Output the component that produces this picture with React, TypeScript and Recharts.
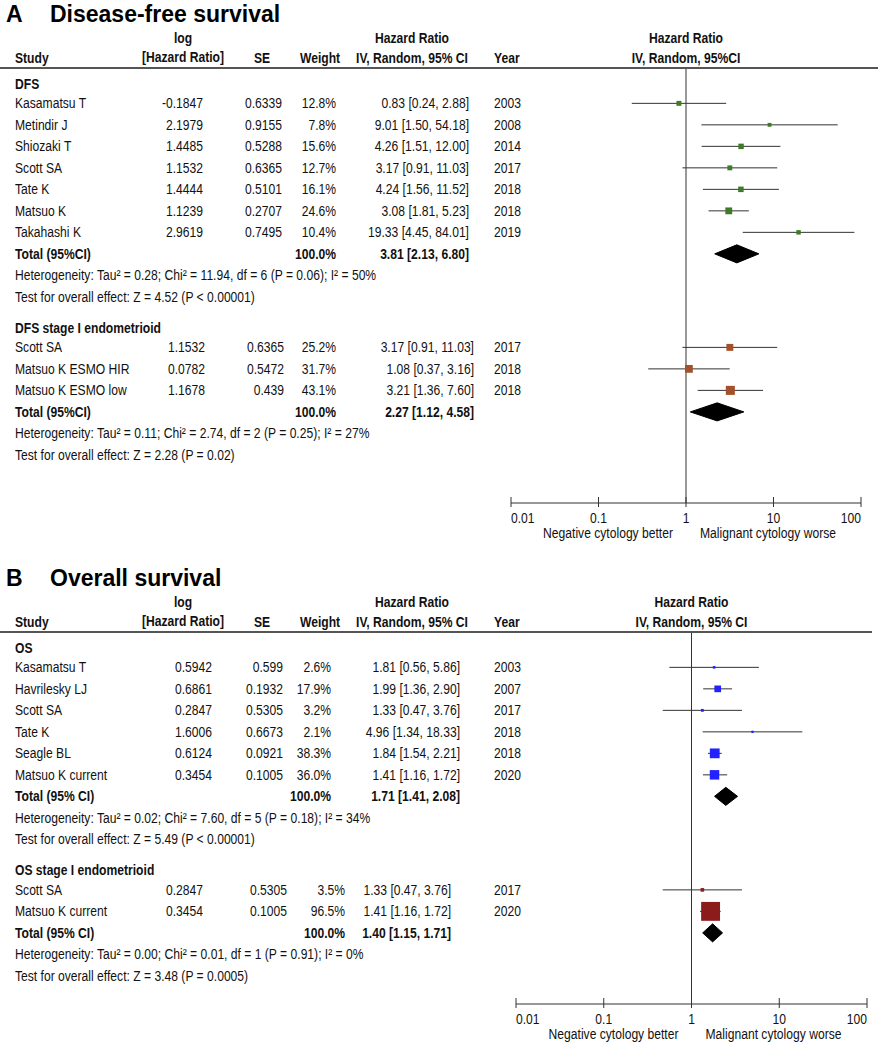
import React from 'react';
import { ComposedChart, Scatter, XAxis, YAxis, ZAxis, ErrorBar, ReferenceLine } from 'recharts';

// ---------------- Panel A: Disease-free survival ----------------
const dfsStudies = ['Kasamatsu T', 'Metindir J', 'Shiozaki T', 'Scott SA', 'Tate K', 'Matsuo K', 'Takahashi K'];
const dfsLogHr = [-0.1847, 2.1979, 1.4485, 1.1532, 1.4444, 1.1239, 2.9619];
const dfsSe = [0.6339, 0.9155, 0.5288, 0.6365, 0.5101, 0.2707, 0.7495];
const dfsWeight = [12.8, 7.8, 15.6, 12.7, 16.1, 24.6, 10.4];
const dfsHr = [0.83, 9.01, 4.26, 3.17, 4.24, 3.08, 19.33];
const dfsLo = [0.24, 1.5, 1.51, 0.91, 1.56, 1.81, 4.45];
const dfsHi = [2.88, 54.18, 12.0, 11.03, 11.52, 5.23, 84.01];
const dfsYear = [2003, 2008, 2014, 2017, 2018, 2018, 2019];
const dfsTotal = [3.81, 2.13, 6.8];
const dfsHet = 'Heterogeneity: Tau² = 0.28; Chi² = 11.94, df = 6 (P = 0.06); I² = 50%';
const dfsTest = 'Test for overall effect: Z = 4.52 (P < 0.00001)';

const dfsStStudies = ['Scott SA', 'Matsuo K ESMO HIR', 'Matsuo K ESMO low'];
const dfsStLogHr = [1.1532, 0.0782, 1.1678];
const dfsStSe = [0.6365, 0.5472, 0.439];
const dfsStWeight = [25.2, 31.7, 43.1];
const dfsStHr = [3.17, 1.08, 3.21];
const dfsStLo = [0.91, 0.37, 1.36];
const dfsStHi = [11.03, 3.16, 7.6];
const dfsStYear = [2017, 2018, 2018];
const dfsStTotal = [2.27, 1.12, 4.58];
const dfsStHet = 'Heterogeneity: Tau² = 0.11; Chi² = 2.74, df = 2 (P = 0.25); I² = 27%';
const dfsStTest = 'Test for overall effect: Z = 2.28 (P = 0.02)';

// ---------------- Panel B: Overall survival ----------------
const osStudies = ['Kasamatsu T', 'Havrilesky LJ', 'Scott SA', 'Tate K', 'Seagle BL', 'Matsuo K current'];
const osLogHr = [0.5942, 0.6861, 0.2847, 1.6006, 0.6124, 0.3454];
const osSe = [0.599, 0.1932, 0.5305, 0.6673, 0.0921, 0.1005];
const osWeight = [2.6, 17.9, 3.2, 2.1, 38.3, 36.0];
const osHr = [1.81, 1.99, 1.33, 4.96, 1.84, 1.41];
const osLo = [0.56, 1.36, 0.47, 1.34, 1.54, 1.16];
const osHi = [5.86, 2.9, 3.76, 18.33, 2.21, 1.72];
const osYear = [2003, 2007, 2017, 2018, 2018, 2020];
const osTotal = [1.71, 1.41, 2.08];
// positions of the marks as drawn in the figure
const osPlotHr = [1.81, 1.99, 1.33, 4.96, 1.84, 1.83];
const osPlotLo = [0.56, 1.36, 0.47, 1.34, 1.54, 1.35];
const osPlotHi = [5.86, 2.9, 3.76, 18.33, 2.21, 2.55];
const osPlotTotal = [2.46, 1.83, 3.35];
const osHet = 'Heterogeneity: Tau² = 0.02; Chi² = 7.60, df = 5 (P = 0.18); I² = 34%';
const osTest = 'Test for overall effect: Z = 5.49 (P < 0.00001)';

const osStStudies = ['Scott SA', 'Matsuo K current'];
const osStLogHr = [0.2847, 0.3454];
const osStSe = [0.5305, 0.1005];
const osStWeight = [3.5, 96.5];
const osStHr = [1.33, 1.41];
const osStLo = [0.47, 1.16];
const osStHi = [3.76, 1.72];
const osStYear = [2017, 2020];
const osStTotal = [1.4, 1.15, 1.71];
const osStPlotHr = [1.33, 1.65];
const osStPlotLo = [0.47, 1.25];
const osStPlotHi = [3.76, 2.15];
const osStPlotTotal = [1.74, 1.34, 2.26];
const osStHet = 'Heterogeneity: Tau² = 0.00; Chi² = 0.01, df = 1 (P = 0.91); I² = 0%';
const osStTest = 'Test for overall effect: Z = 3.48 (P = 0.0005)';

const axisTicks = [0.01, 0.1, 1, 10, 100];
const footLeft = 'Negative cytology better';
const footRight = 'Malignant cytology worse';

// ---------------- layout / style constants ----------------
const FONT = "'Liberation Sans', Arial, Helvetica, sans-serif";
const NARROW = 0.83;
const FS = 14.6;
const ROW_H = 21.5;
const LABEL_Y = 84;
const PLOT_TOP = 68;
const LABEL_GAP = 0.9;
const SECTION_GAP = 1.45;
const DIAMOND_HALF = 0.42;
const LINE_COLOR = '#333';

type Cols = { log: number; se: number; w: number; ci: number; year: number };

const fmt2 = (v: number) => v.toFixed(2);
const ciText = (h: number, l: number, u: number) => `${fmt2(h)} [${fmt2(l)}, ${fmt2(u)}]`;

function NText({ x, y, anchor = 'start', bold = false, size = FS, children }: any) {
  return (
    <text
      transform={`translate(${x},${y}) scale(${NARROW},1)`}
      x={0}
      y={0}
      textAnchor={anchor}
      dominantBaseline="central"
      fontFamily={FONT}
      fontSize={size}
      fontWeight={bold ? 700 : 400}
      fill="#111"
    >
      {children}
    </text>
  );
}

function makeSection(
  label: string, studies: string[], logHr: number[], se: number[], weight: number[],
  hr: number[], lo: number[], hi: number[], year: number[], total: number[],
  totalLabel: string, het: string, test: string, color: string, cols: Cols,
  plotHr?: number[], plotLo?: number[], plotHi?: number[], plotTotal?: number[]
) {
  return {
    label, studies, logHr, se, weight, hr, lo, hi, year, total, totalLabel, het, test, color, cols,
    plotHr: plotHr || hr, plotLo: plotLo || lo, plotHi: plotHi || hi, plotTotal: plotTotal || total,
  };
}

function buildRows(sections: any[]) {
  const rows: any[] = [];
  const points: any[][] = [];
  const diamonds: any[][] = [];
  let p = 0;
  sections.forEach((s) => {
    rows.push({ p, kind: 'label', text: s.label });
    p += LABEL_GAP;
    const pts: any[] = [];
    s.studies.forEach((_: string, i: number) => {
      rows.push({ p, kind: 'study', sec: s, i });
      const h = s.plotHr[i];
      pts.push({ x: h, y: p, z: s.weight[i], ci: [h - s.plotLo[i], s.plotHi[i] - h] });
      p += 1;
    });
    points.push(pts);
    rows.push({ p, kind: 'total', sec: s });
    const t = s.plotTotal;
    diamonds.push([
      { x: t[1], y: p },
      { x: t[0], y: p - DIAMOND_HALF },
      { x: t[2], y: p },
      { x: t[0], y: p + DIAMOND_HALF },
    ]);
    p += 1;
    rows.push({ p, kind: 'note', text: s.het });
    p += 1;
    rows.push({ p, kind: 'note', text: s.test });
    p += SECTION_GAP;
  });
  return { rows, points, diamonds };
}

const diamondLine = (props: any) => {
  const pts = props.points || [];
  if (pts.length < 3) return <g />;
  const d = pts.map((pt: any, i: number) => `${i ? 'L' : 'M'}${pt.x},${pt.y}`).join(' ') + ' Z';
  return <path d={d} fill="#000" stroke="#000" strokeWidth={1} />;
};

const emptyShape = () => <g />;

function makeRowTick(rows: any[], nameX: number) {
  return (props: any) => {
    const { y, payload } = props;
    const row = rows.find((r) => Math.abs(r.p - payload.value) < 1e-6);
    if (!row) return <g />;
    if (row.kind === 'label') {
      return <g><NText x={nameX} y={y} bold>{row.text}</NText></g>;
    }
    if (row.kind === 'note') {
      return <g><NText x={nameX} y={y}>{row.text}</NText></g>;
    }
    const s = row.sec;
    const c: Cols = s.cols;
    if (row.kind === 'total') {
      return (
        <g>
          <NText x={nameX} y={y} bold>{s.totalLabel}</NText>
          <NText x={c.w} y={y} anchor="end" bold>100.0%</NText>
          <NText x={c.ci} y={y} anchor="end" bold>{ciText(s.total[0], s.total[1], s.total[2])}</NText>
        </g>
      );
    }
    const i = row.i;
    return (
      <g>
        <NText x={nameX} y={y}>{s.studies[i]}</NText>
        <NText x={c.log} y={y} anchor="end">{String(s.logHr[i])}</NText>
        <NText x={c.se} y={y} anchor="end">{String(s.se[i])}</NText>
        <NText x={c.w} y={y} anchor="end">{`${s.weight[i].toFixed(1)}%`}</NText>
        <NText x={c.ci} y={y} anchor="end">{ciText(s.hr[i], s.lo[i], s.hi[i])}</NText>
        <NText x={c.year} y={y}>{String(s.year[i])}</NText>
      </g>
    );
  };
}

const XTick = (props: any) => {
  const { x, y, payload } = props;
  const v = payload.value;
  const anchor = v === axisTicks[0] ? 'start' : v === axisTicks[axisTicks.length - 1] ? 'end' : 'middle';
  return (
    <g>
      <line x1={x} x2={x} y1={y - 6} y2={y + 4} stroke={LINE_COLOR} strokeWidth={1} />
      <NText x={x} y={y + 15} anchor={anchor}>{String(v)}</NText>
      {v === 1 ? (
        <>
          <NText x={x - 13} y={y + 30} anchor="end">{footLeft}</NText>
          <NText x={x + 14} y={y + 30}>{footRight}</NText>
        </>
      ) : null}
    </g>
  );
};

function ForestPanel(props: any) {
  const { letter, title, sections, top, height, plotLeft, plotRight, plotBottom, zMax, ciHeader, plotHeader, ruleEnd } = props;
  const { rows, points, diamonds } = buildRows(sections);
  const pTop = (PLOT_TOP - LABEL_Y) / ROW_H;
  const pBottom = (plotBottom - LABEL_Y) / ROW_H;
  const plotCenter = (plotLeft + plotRight) / 2;
  const W = 878;
  return (
    <div style={{ position: 'absolute', left: 0, top, width: W, height }}>
      <ComposedChart
        width={W}
        height={height}
        margin={{ top: PLOT_TOP, right: W - plotRight, bottom: 0, left: 0 }}
      >
        <XAxis
          dataKey="x"
          type="number"
          scale="log"
          domain={[axisTicks[0], axisTicks[axisTicks.length - 1]]}
          ticks={axisTicks}
          allowDataOverflow
          height={height - plotBottom}
          tickSize={0}
          tickMargin={0}
          tickLine={false}
          axisLine={{ stroke: LINE_COLOR, strokeWidth: 1 }}
          tick={XTick}
          interval={0}
        />
        <YAxis
          dataKey="y"
          type="number"
          domain={[pTop, pBottom]}
          reversed
          ticks={rows.map((r) => r.p)}
          interval={0}
          width={plotLeft}
          axisLine={false}
          tickLine={false}
          tickSize={0}
          tick={makeRowTick(rows, 15)}
          allowDataOverflow
        />
        {zMax.map((k: number, i: number) => (
          <ZAxis key={`z${i}`} zAxisId={i} dataKey="z" type="number" domain={[0, 100]} range={[0, k]} />
        ))}
        <ReferenceLine x={1} stroke={LINE_COLOR} strokeWidth={1} />
        {points.map((pts: any[], i: number) => (
          <Scatter
            key={`s${i}`}
            data={pts}
            zAxisId={i}
            shape="square"
            fill={sections[i].color}
            isAnimationActive={false}
          >
            <ErrorBar dataKey="ci" direction="x" width={0} stroke={LINE_COLOR} strokeWidth={1} />
          </Scatter>
        ))}
        {diamonds.map((d: any[], i: number) => (
          <Scatter
            key={`d${i}`}
            data={d}
            zAxisId={i}
            shape={emptyShape}
            line={diamondLine}
            lineType="joint"
            fill="#000"
            isAnimationActive={false}
          />
        ))}
      </ComposedChart>
      <svg
        width={W}
        height={PLOT_TOP + 4}
        style={{ position: 'absolute', left: 0, top: 0, pointerEvents: 'none' }}
      >
        <text x={6} y={14} dominantBaseline="central" fontFamily={FONT} fontSize={23} fontWeight={700} fill="#000">{letter}</text>
        <text x={50} y={14} dominantBaseline="central" fontFamily={FONT} fontSize={23} fontWeight={700} fill="#000">{title}</text>
        <NText x={183} y={38} anchor="middle" bold>log</NText>
        <NText x={412} y={38} anchor="middle" bold>Hazard Ratio</NText>
        <NText x={plotCenter} y={38} anchor="middle" bold>Hazard Ratio</NText>
        <NText x={15} y={58} bold>Study</NText>
        <NText x={183} y={57} anchor="middle" bold>[Hazard Ratio]</NText>
        <NText x={262} y={58} anchor="middle" bold>SE</NText>
        <NText x={320} y={58} anchor="middle" bold>Weight</NText>
        <NText x={412} y={58} anchor="middle" bold>{ciHeader}</NText>
        <NText x={494} y={58} bold>Year</NText>
        <NText x={plotCenter} y={58} anchor="middle" bold>{plotHeader}</NText>
        <line x1={0} x2={ruleEnd} y1={PLOT_TOP} y2={PLOT_TOP} stroke="#555" strokeWidth={2} />
      </svg>
    </div>
  );
}

const sectionsA = [
  makeSection('DFS', dfsStudies, dfsLogHr, dfsSe, dfsWeight, dfsHr, dfsLo, dfsHi, dfsYear, dfsTotal,
    'Total (95%CI)', dfsHet, dfsTest, '#3d7b28', { log: 203, se: 282, w: 336, ci: 469, year: 494 }),
  makeSection('DFS stage I endometrioid', dfsStStudies, dfsStLogHr, dfsStSe, dfsStWeight, dfsStHr, dfsStLo, dfsStHi,
    dfsStYear, dfsStTotal, 'Total (95%CI)', dfsStHet, dfsStTest, '#a4502a', { log: 205, se: 284, w: 336, ci: 474, year: 494 }),
];

const sectionsB = [
  makeSection('OS', osStudies, osLogHr, osSe, osWeight, osHr, osLo, osHi, osYear, osTotal,
    'Total (95% CI)', osHet, osTest, '#2222ff', { log: 212, se: 283, w: 331, ci: 460, year: 494 },
    osPlotHr, osPlotLo, osPlotHi, osPlotTotal),
  makeSection('OS stage I endometrioid', osStStudies, osStLogHr, osStSe, osStWeight, osStHr, osStLo, osStHi,
    osStYear, osStTotal, 'Total (95% CI)', osStHet, osStTest, '#8c1c1c', { log: 203, se: 287, w: 345, ci: 451, year: 494 },
    osStPlotHr, osStPlotLo, osStPlotHi, osStPlotTotal),
];

export default function App() {
  return (
    <div style={{ position: 'absolute', left: 0, top: 0, width: 878, height: 1050, background: '#fff', overflow: 'hidden' }}>
      <ForestPanel
        letter="A"
        title="Disease-free survival"
        sections={sectionsA}
        top={0}
        height={550}
        plotLeft={511}
        plotRight={861}
        plotBottom={503}
        zMax={[190, 190]}
        ciHeader="IV, Random, 95% CI"
        plotHeader="IV, Random, 95%CI"
        ruleEnd={878}
      />
      <ForestPanel
        letter="B"
        title="Overall survival"
        sections={sectionsB}
        top={564}
        height={486}
        plotLeft={516}
        plotRight={867}
        plotBottom={440}
        zMax={[250, 370]}
        ciHeader="IV, Random, 95% CI"
        plotHeader="IV, Random, 95% CI"
        ruleEnd={872}
      />
    </div>
  );
}
